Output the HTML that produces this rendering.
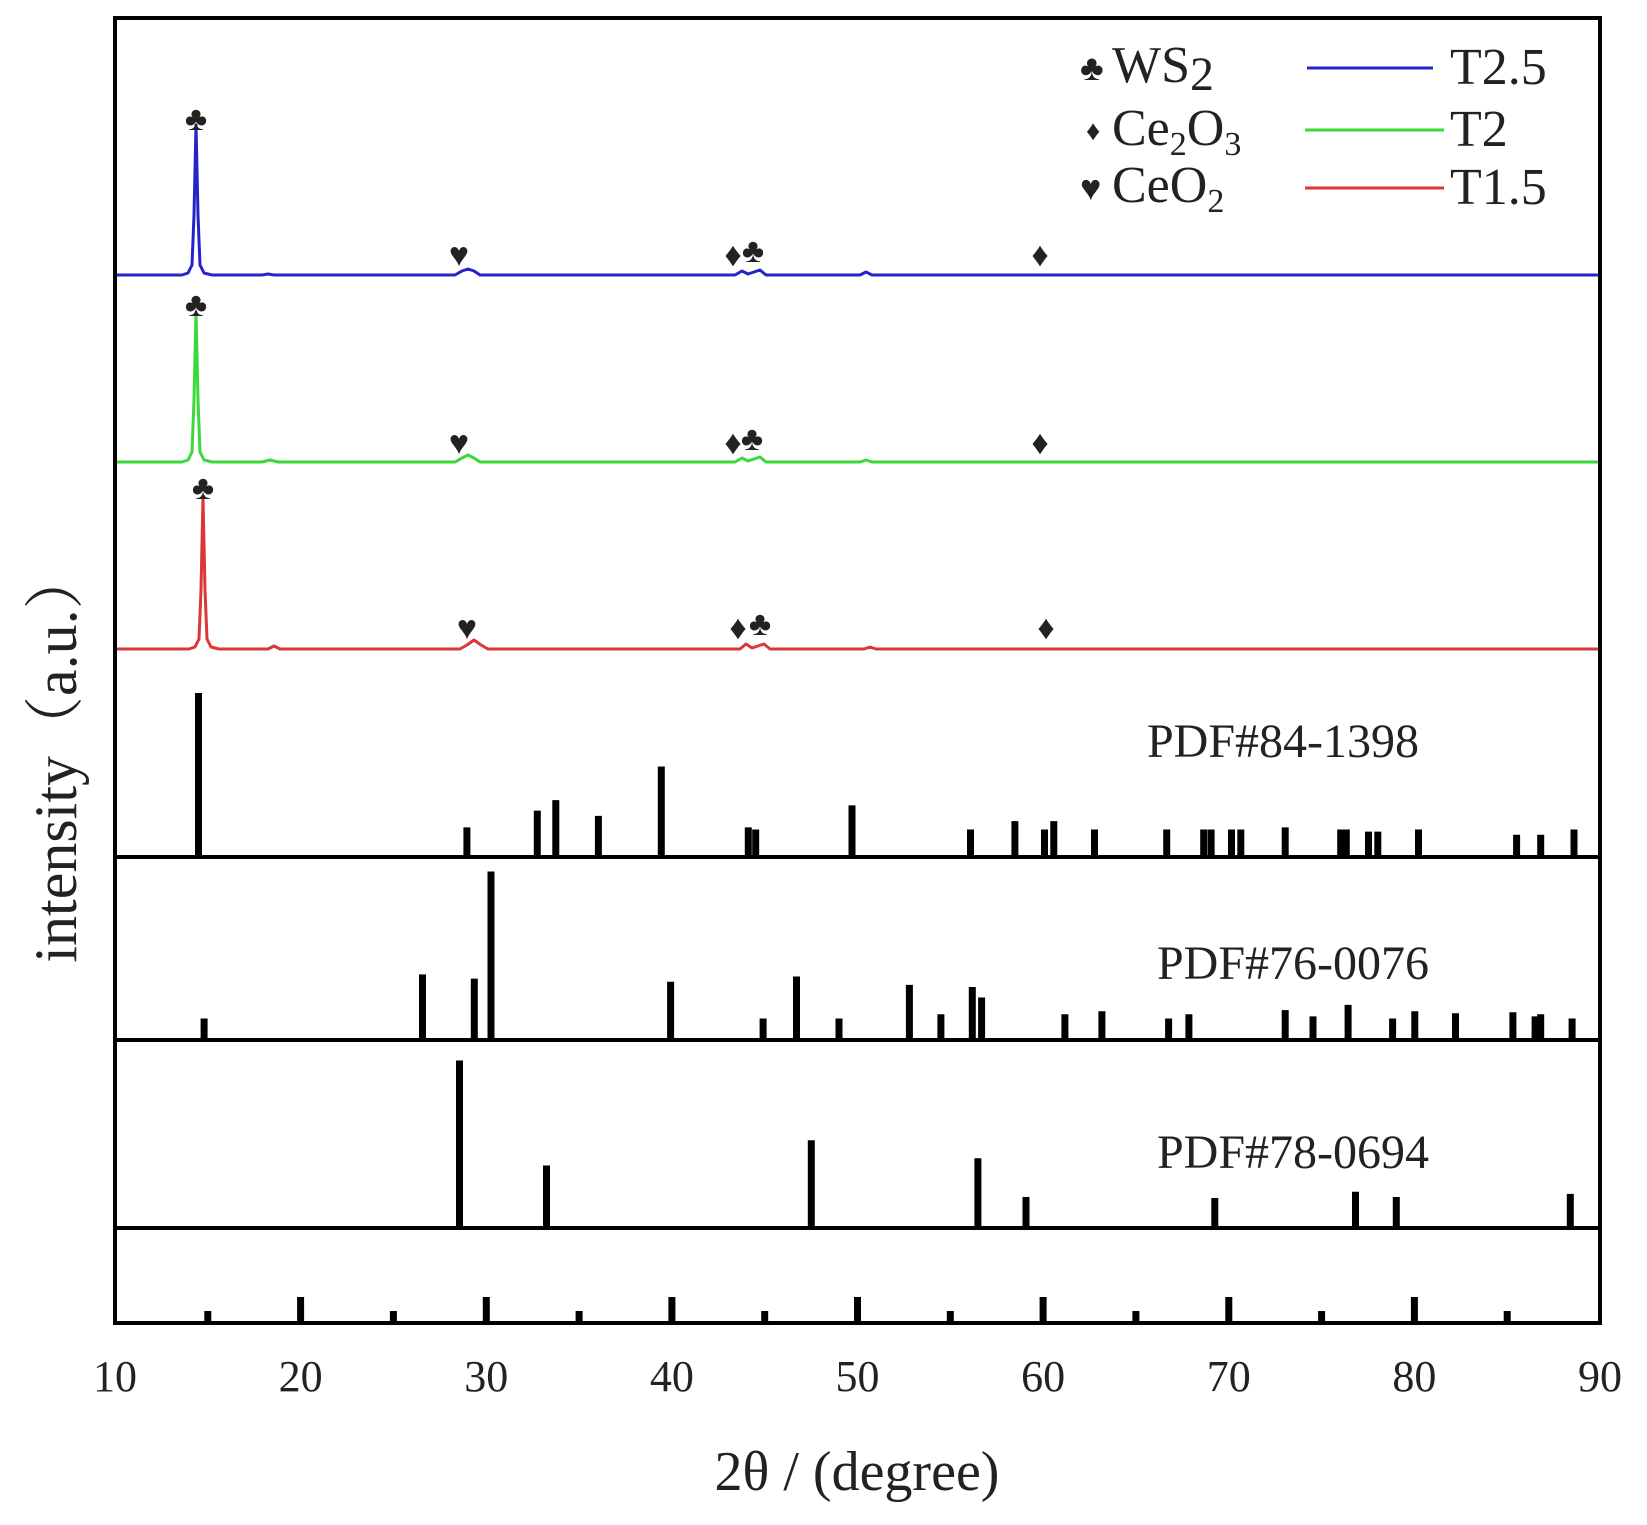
<!DOCTYPE html>
<html><head><meta charset="utf-8"><style>
html,body{margin:0;padding:0;background:#fff;}
svg{display:block;}
text{font-family:"Liberation Serif",serif;fill:#222;}
</style></head><body>
<svg width="1647" height="1525" viewBox="0 0 1647 1525" xmlns="http://www.w3.org/2000/svg">
<g fill="none" stroke-width="3" stroke-linejoin="round">
<path stroke="#2424c8" d="M115,275 L182,275 L188,273 L192,265 L194,215 L196,125 L198,215 L200,265 L204,273 L212,275 L262,275 L268,274 L274,275 L455,275 L462,271 L468,269 L474,271 L480,275 L735,275 L742,271 L748,274 L754,272 L760,270 L766,275 L860,275 L866,272 L872,275 L1600,275"/>
<path stroke="#3ad83a" d="M115,462 L182,462 L188,460 L192,452 L194,400 L196,312 L198,400 L200,452 L204,460 L212,462 L262,462 L270,460 L278,462 L455,462 L462,458 L468,455 L474,458 L480,462 L735,462 L742,458 L748,461 L754,459 L760,457 L766,462 L860,462 L866,460 L872,462 L1600,462"/>
<path stroke="#dd3636" d="M115,649 L189,649 L195,647 L199,639 L201,590 L203,497 L205,590 L207,639 L211,647 L219,649 L268,649 L274,646 L280,649 L460,649 L467,645 L474,640 L481,645 L488,649 L740,649 L746,644 L752,648 L758,646 L764,644 L770,649 L864,649 L870,647 L876,649 L1600,649"/>
</g>
<path id="p1" stroke="#000" stroke-width="7" fill="none" d=""/>
<g stroke="#000" stroke-width="4" fill="none">
<rect x="115" y="18" width="1485" height="1305"/>
<line x1="115" y1="857" x2="1600" y2="857"/>
<line x1="115" y1="1040" x2="1600" y2="1040"/>
<line x1="115" y1="1228" x2="1600" y2="1228"/>
</g>
<script>
(function(){
var X=function(d){return 115+(d-10)*18.5625;};
var XS=function(d){return X(d)-3.5-0.05*(d-10);};
var s="";
function add(list,base){list.forEach(function(p){s+="M"+XS(p[0]).toFixed(1)+","+base+"V"+(p[1]*1.05).toFixed(1);});}
add([[14.7,660],[29.2,788],[33,772],[34,762],[36.3,777],[39.7,730],[44.4,788],[44.8,790],[50,767],[56.4,790],[58.8,782],[60.4,790],[60.9,782],[63.1,790],[67,790],[69,790],[69.4,790],[70.5,790],[71,790],[73.4,788],[76.4,790],[76.7,790],[77.9,792],[78.4,792],[80.6,790],[85.9,795],[87.2,795],[89,790]],857);
add([[15,970],[26.8,928],[29.6,932],[30.5,830],[40.2,935],[45.2,970],[47,930],[49.3,970],[53.1,938],[54.8,966],[56.5,940],[57,950],[61.5,966],[63.5,963],[67.1,970],[68.2,966],[73.4,962],[74.9,968],[76.8,957],[79.2,970],[80.4,963],[82.6,965],[85.7,964],[86.9,968],[87.2,966],[88.9,970]],1040);
add([[28.8,1010],[33.5,1110],[47.8,1086],[56.8,1103],[59.4,1140],[69.6,1141],[77.2,1135],[79.4,1140],[88.8,1137]],1228);
for(var d=15;d<90;d+=5){var maj=(d%10==0);s+="M"+X(d).toFixed(1)+",1323V"+(maj?1297:1311);}
document.getElementById("p1").setAttribute("d",s);
})();
</script>
<g font-size="34" text-anchor="middle" style="font-family:'DejaVu Sans',sans-serif">
<text x="196" y="130">♣</text>
<text x="459" y="266">♥</text><text x="733" y="266">♦</text><text x="753" y="262">♣</text><text x="1040" y="266">♦</text>
<text x="196" y="316">♣</text>
<text x="459" y="454">♥</text><text x="733" y="454">♦</text><text x="752" y="450">♣</text><text x="1040" y="454">♦</text>
<text x="203" y="499">♣</text>
<text x="467" y="639">♥</text><text x="738" y="639">♦</text><text x="760" y="635">♣</text><text x="1046" y="639">♦</text>
</g>
<g font-size="36" style="font-family:'DejaVu Sans',sans-serif">
<text x="1080" y="80">♣</text><text x="1086" y="140" font-size="28">♦</text><text x="1080" y="200">♥</text>
</g>
<g font-size="52">
<text x="1112" y="82">WS<tspan font-size="48" dy="8">2</tspan></text>
<text x="1112" y="145">Ce<tspan font-size="34" dy="10">2</tspan><tspan dy="-10">O</tspan><tspan font-size="34" dy="10">3</tspan></text>
<text x="1112" y="202">CeO<tspan font-size="34" dy="10">2</tspan></text>
<text x="1450" y="84">T2.5</text>
<text x="1450" y="146">T2</text>
<text x="1450" y="204">T1.5</text>
</g>
<g stroke-width="3">
<line x1="1307" y1="68" x2="1433" y2="68" stroke="#2424c8"/>
<line x1="1305" y1="130" x2="1444" y2="130" stroke="#3ad83a"/>
<line x1="1305" y1="188" x2="1444" y2="188" stroke="#dd3636"/>
</g>
<g font-size="48" text-anchor="middle">
<text x="1283" y="757">PDF#84-1398</text>
<text x="1293" y="979">PDF#76-0076</text>
<text x="1293" y="1168">PDF#78-0694</text>
</g>
<g font-size="44" text-anchor="middle">
<text x="115" y="1391">10</text><text x="300.6" y="1391">20</text><text x="486.2" y="1391">30</text><text x="671.9" y="1391">40</text><text x="857.5" y="1391">50</text><text x="1043.1" y="1391">60</text><text x="1228.8" y="1391">70</text><text x="1414.4" y="1391">80</text><text x="1600" y="1391">90</text>
</g>
<text x="857" y="1490" font-size="56" text-anchor="middle">2θ / (degree)</text>
<text transform="translate(76,756) rotate(-90)" font-size="60" text-anchor="middle" style="font-family:'Liberation Serif','Noto Serif CJK SC',serif">intensity（a.u.）</text>
</svg>
</body></html>
